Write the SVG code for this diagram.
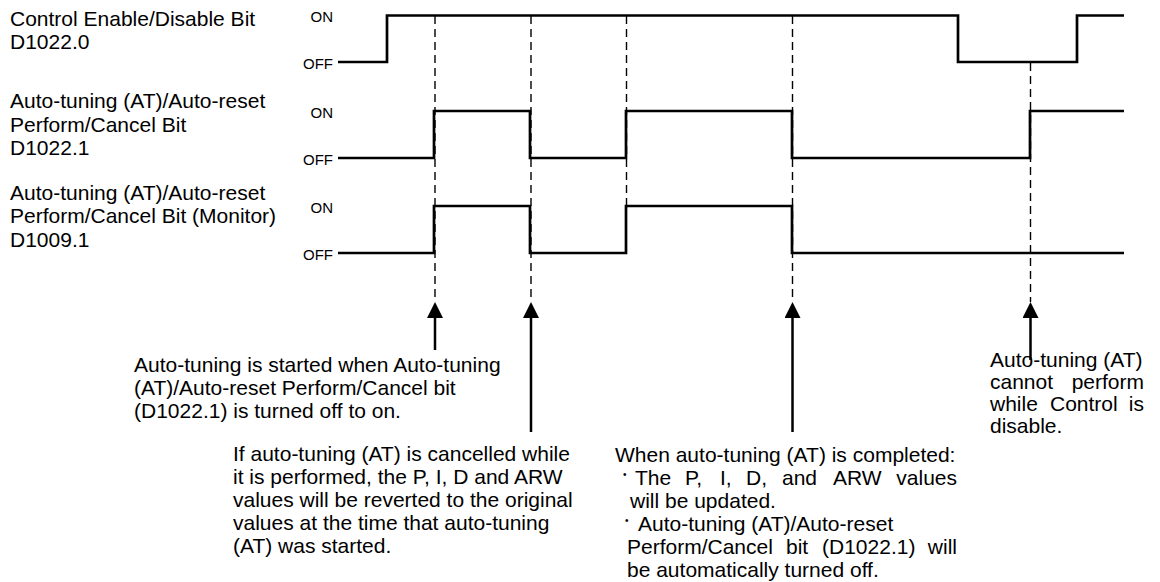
<svg xmlns="http://www.w3.org/2000/svg" width="1160" height="582" viewBox="0 0 1160 582">
<style>
.t{font-family:"Liberation Sans",Arial,sans-serif;font-size:21px;fill:#000}
.b{font-family:"Liberation Sans",Arial,sans-serif;font-size:10px;fill:#000}
.lv{font-family:"Liberation Sans",Arial,sans-serif;font-size:15px;fill:#000;text-anchor:end}
.e{text-anchor:end}
.w{fill:none;stroke:#000;stroke-width:2.7;stroke-linejoin:miter}
.d{fill:none;stroke:#000;stroke-width:1.4;stroke-dasharray:8 5}
.a{fill:none;stroke:#000;stroke-width:2.5}
</style>
<defs>
<marker id="ah" markerUnits="userSpaceOnUse" markerWidth="16" markerHeight="16" viewBox="0 0 16 16" refX="0" refY="8" orient="auto">
<path d="M0,0 L16,8 L0,16 z" fill="#000"/>
</marker>
</defs>
<rect width="1160" height="582" fill="#fff"/>
<g id="signal-d1022-0">
<text class="t" x="10" y="26">Control Enable/Disable Bit</text>
<text class="t" x="10" y="49">D1022.0</text>
<text class="lv" x="333" y="22">ON</text>
<text class="lv" x="333" y="69">OFF</text>
<path class="w" d="M338,62 H387 V15.5 H958 V62 H1077 V15.5 H1124"/>
</g>
<g id="signal-d1022-1">
<text class="t" x="10" y="108">Auto-tuning (AT)/Auto-reset</text>
<text class="t" x="10" y="132">Perform/Cancel Bit</text>
<text class="t" x="10" y="155">D1022.1</text>
<text class="lv" x="333" y="118">ON</text>
<text class="lv" x="333" y="165">OFF</text>
<path class="w" d="M338,158 H434 V111 H530 V158 H626 V111 H792 V158 H1030 V111 H1124"/>
</g>
<g id="signal-d1009-1">
<text class="t" x="10" y="200">Auto-tuning (AT)/Auto-reset</text>
<text class="t" x="10" y="223">Perform/Cancel Bit (Monitor)</text>
<text class="t" x="10" y="247">D1009.1</text>
<text class="lv" x="333" y="213">ON</text>
<text class="lv" x="333" y="260">OFF</text>
<path class="w" d="M338,253 H434 V206 H530 V253 H626 V206 H792 V253 H1124"/>
</g>
<g id="connectors">
<line class="d" x1="435" y1="16" x2="435" y2="302"/>
<line class="d" x1="531" y1="16" x2="531" y2="302"/>
<line class="d" x1="626.5" y1="16" x2="626.5" y2="206"/>
<line class="d" x1="792.5" y1="16" x2="792.5" y2="302"/>
<line class="d" x1="1030.5" y1="63" x2="1030.5" y2="302"/>
<line class="a" x1="435" y1="350" x2="435" y2="318" marker-end="url(#ah)"/>
<line class="a" x1="531" y1="432" x2="531" y2="318" marker-end="url(#ah)"/>
<line class="a" x1="792.5" y1="432" x2="792.5" y2="318" marker-end="url(#ah)"/>
<line class="a" x1="1030.5" y1="360" x2="1030.5" y2="318" marker-end="url(#ah)"/>
</g>
<g id="note-start">
<text class="t" x="134" y="372">Auto-tuning is started when Auto-tuning</text>
<text class="t" x="134" y="395">(AT)/Auto-reset Perform/Cancel bit</text>
<text class="t" x="134" y="418">(D1022.1) is turned off to on.</text>
</g>
<g id="note-cancel">
<text class="t" x="233" y="461">If auto-tuning (AT) is cancelled while</text>
<text class="t" x="233" y="484">it is performed, the P, I, D and ARW</text>
<text class="t" x="233" y="507">values will be reverted to the original</text>
<text class="t" x="233" y="530">values at the time that auto-tuning</text>
<text class="t" x="233" y="553">(AT) was started.</text>
</g>
<g id="note-complete">
<text class="t" x="615" y="462">When auto-tuning (AT) is completed:</text>
<text class="b" x="623" y="478">•</text>
<text class="t" x="635" y="485">The</text>
<text class="t" x="685" y="485">P,</text>
<text class="t" x="720" y="485">I,</text>
<text class="t" x="746" y="485">D,</text>
<text class="t" x="782" y="485">and</text>
<text class="t" x="833" y="485">ARW</text>
<text class="t e" x="957" y="485">values</text>
<text class="t" x="630" y="508">will be updated.</text>
<text class="b" x="625" y="524">•</text>
<text class="t" x="638" y="531">Auto-tuning (AT)/Auto-reset</text>
<text class="t" x="627" y="554">Perform/Cancel</text>
<text class="t" x="786" y="554">bit</text>
<text class="t" x="822" y="554">(D1022.1)</text>
<text class="t e" x="957" y="554">will</text>
<text class="t" x="627" y="577">be automatically turned off.</text>
</g>
<g id="note-disabled">
<text class="t" x="990" y="367">Auto-tuning (AT)</text>
<text class="t" x="990" y="389">cannot</text>
<text class="t e" x="1144" y="389">perform</text>
<text class="t" x="990" y="411">while</text>
<text class="t" x="1050" y="411">Control</text>
<text class="t e" x="1144" y="411">is</text>
<text class="t" x="990" y="433">disable.</text>
</g>
</svg>
